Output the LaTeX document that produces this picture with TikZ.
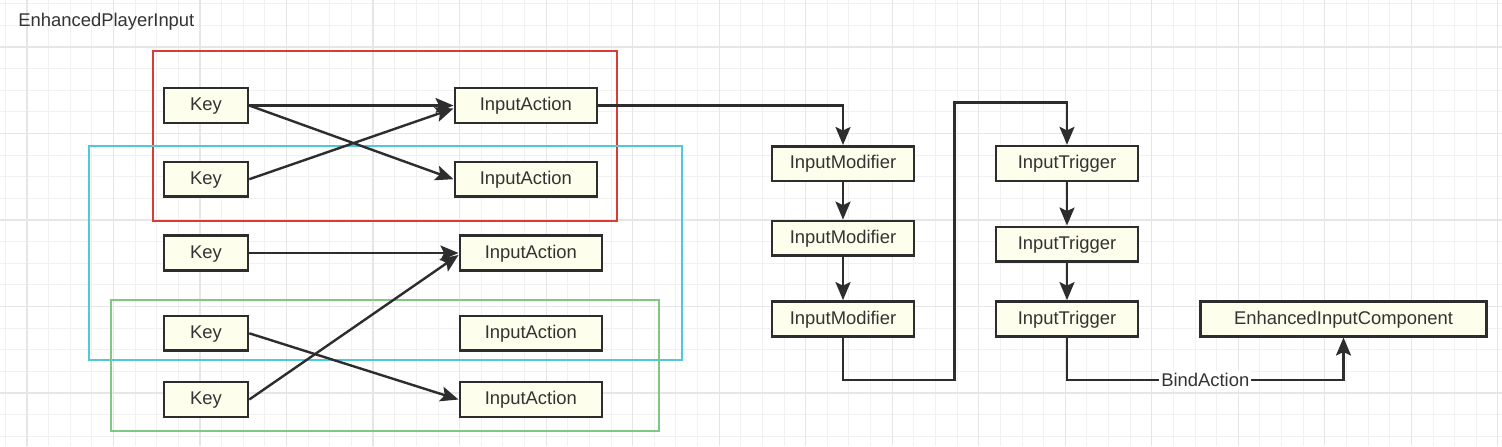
\documentclass[tikz,border=0pt]{standalone}
\usepackage{fontspec}
\setmainfont{Liberation Sans}
\usetikzlibrary{arrows.meta}
\definecolor{linec}{RGB}{45,45,45}
\definecolor{textc}{RGB}{51,51,51}
\definecolor{boxfill}{RGB}{254,254,236}
\definecolor{redgrp}{RGB}{214,62,50}
\definecolor{cyangrp}{RGB}{80,200,216}
\definecolor{greengrp}{RGB}{130,198,134}
\definecolor{gridminor}{RGB}{241,241,241}
\definecolor{gridmajor}{RGB}{230,230,230}
\tikzset{
  box/.style={draw=linec, line width=1.3pt, fill=boxfill, text=textc, minimum height=17.4pt,
    inner sep=0pt, text height=0.72em, text depth=0.2em},
  keybox/.style={box, minimum width=42pt},
  actbox/.style={box, minimum width=71pt},
  conn/.style={draw=linec, line width=1.2pt, -{Stealth[length=9pt,width=7.5pt,inset=1.8pt]}},
}

\begin{document}
\begin{tikzpicture}[x=0.5pt,y=-0.5pt,font=\fontsize{9.2}{11}\selectfont]
        \fill[white] (0,0) rectangle (1502,446);
        \useasboundingbox (0,0) rectangle (1502,446);
        % grid
        \foreach \i in {0,...,69} \draw[gridminor, line width=0.5pt] ({5.4+21.63*\i},0) -- ({5.4+21.63*\i},446);
        \foreach \i in {0,...,20} \draw[gridminor, line width=0.5pt] (0,{3.6+21.63*\i}) -- (1502,{3.6+21.63*\i});
        \foreach \i in {0,...,17} \draw[gridmajor, line width=0.6pt] ({27+86.52*\i},0) -- ({27+86.52*\i},446);
        \foreach \i in {0,...,4} \draw[gridmajor, line width=0.6pt] (0,{47+86.52*\i}) -- (1502,{47+86.52*\i});
        \node[anchor=west, inner sep=0pt, text=textc] (title) at (18,22) {EnhancedPlayerInput};
        % groups of keys
        \draw[redgrp, line width=1pt] (152.7,50.7) rectangle (616.7,221);
        \draw[cyangrp, line width=1pt] (89,146) rectangle (681.7,360);
        \draw[greengrp, line width=1pt] (110.7,300.3) rectangle (659,430.7);
        \node[keybox] (key1) at (206,105.5) {Key};
        \node[keybox] (key2) at (206,179.2) {Key};
        \node[keybox] (key3) at (206,253) {Key};
        \node[keybox] (key4) at (206,333.3) {Key};
        \node[keybox] (key5) at (206,399.5) {Key};
        \node[actbox] (ia1) at (525.8,105.5) {InputAction};
        \node[actbox] (ia2) at (525.8,179.2) {InputAction};
        \node[actbox] (ia3) at (530.8,253) {InputAction};
        \node[actbox] (ia4) at (530.8,333.3) {InputAction};
        \node[actbox] (ia5) at (530.8,399.5) {InputAction};
        \draw[conn] (key1.east) -- (ia1.west);
        \draw[conn] (key1.east) -- (ia2.west);
        \draw[conn] (key2.east) -- ([yshift=-1.5pt]ia1.west);
        \draw[conn] (key3.east) -- (ia3.west);
        \draw[conn] (key5.east) -- ([yshift=-1pt]ia3.west);
        \draw[conn] (key4.east) -- (ia5.west);
        % modifiers and triggers
        \node[actbox] (mod1) at (843,163.7) {InputModifier};
        \node[actbox] (mod2) at (843,238.3) {InputModifier};
        \node[actbox] (mod3) at (843,318.8) {InputModifier};
        \node[actbox] (trig1) at (1067,163.5) {InputTrigger};
        \node[actbox] (trig2) at (1067,244.2) {InputTrigger};
        \node[actbox] (trig3) at (1067,318.8) {InputTrigger};
        \node[box, minimum width=143pt] (comp) at (1343.5,318.8) {EnhancedInputComponent};
        \draw[conn] (ia1.east) -| (mod1.north);
        \draw[conn] (mod1) -- (mod2);
        \draw[conn] (mod2) -- (mod3);
        \draw[conn] (mod3.south) |- (954.5,380) -- (954.5,102.5) -| (trig1.north);
        \draw[conn] (trig1) -- (trig2);
        \draw[conn] (trig2) -- (trig3);
        \coordinate (bend) at (1343.5,380);
        \draw[conn] (trig3.south) |- node[pos=0.75, fill=white, inner sep=1pt, text=textc] {BindAction} (bend) -- (comp.south);
\end{tikzpicture}
\end{document}
